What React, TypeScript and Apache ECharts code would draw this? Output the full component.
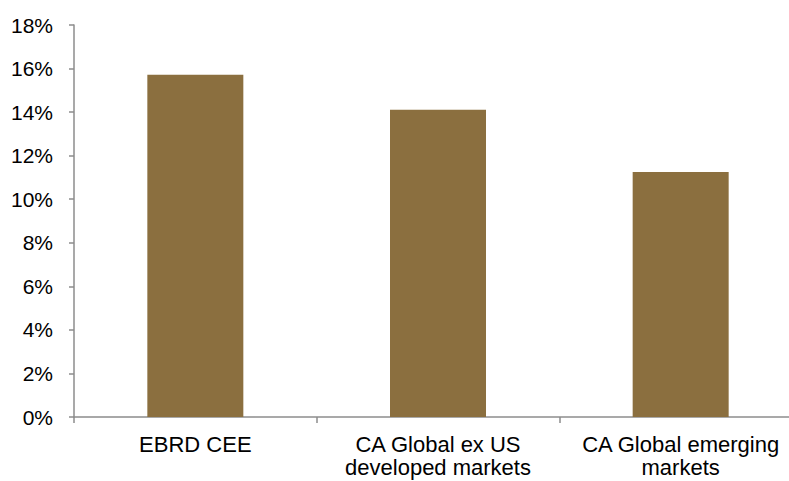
import React, { useEffect, useRef } from "react";
import * as echarts from "echarts";

const categories = ["EBRD CEE", "CA Global ex US\ndeveloped markets", "CA Global emerging\nmarkets"];
const values = [15.72, 14.11, 11.25];
const yTicks = { min: 0, max: 18, interval: 2 };

export default function App() {
  const ref = useRef<HTMLDivElement>(null);
  useEffect(() => {
    const chart = echarts.init(ref.current!, null, { renderer: "svg" });
    const axisColor = "#8c8c8c";
    chart.setOption({
      animation: false,
      backgroundColor: "#ffffff",
      grid: { left: 74, right: 8, top: 25, bottom: 64, containLabel: false, outerBoundsMode: "none" },
      xAxis: {
        type: "category",
        data: categories,
        axisLine: { show: true, lineStyle: { color: axisColor, width: 1.5 } },
        axisTick: { show: true, length: 6, alignWithLabel: false, lineStyle: { color: axisColor, width: 1.5 } },
        axisLabel: {
          color: "#000",
          fontFamily: "Liberation Sans, Arial, sans-serif",
          fontSize: 22,
          lineHeight: 23,
          margin: 16,
          interval: 0,
        },
      },
      yAxis: {
        type: "value",
        min: yTicks.min,
        max: yTicks.max,
        interval: yTicks.interval,
        splitLine: { show: false },
        axisLine: { show: true, lineStyle: { color: axisColor, width: 1.5 } },
        axisTick: { show: true, length: 5, lineStyle: { color: axisColor, width: 1.5 } },
        axisLabel: {
          color: "#000",
          fontFamily: "Liberation Sans, Arial, sans-serif",
          fontSize: 21,
          margin: 21,
          formatter: (v: number) => `${v}%`,
        },
      },
      series: [
        {
          type: "bar",
          data: values,
          barWidth: 96,
          itemStyle: { color: "#8b6f3f" },
        },
      ],
    });
    return () => chart.dispose();
  }, []);
  return (
    <div style={{ position: "absolute", left: 0, top: 0, width: 789, height: 481, overflow: "hidden" }}>
      <div ref={ref} style={{ width: 810, height: 481 }} />
    </div>
  );
}
